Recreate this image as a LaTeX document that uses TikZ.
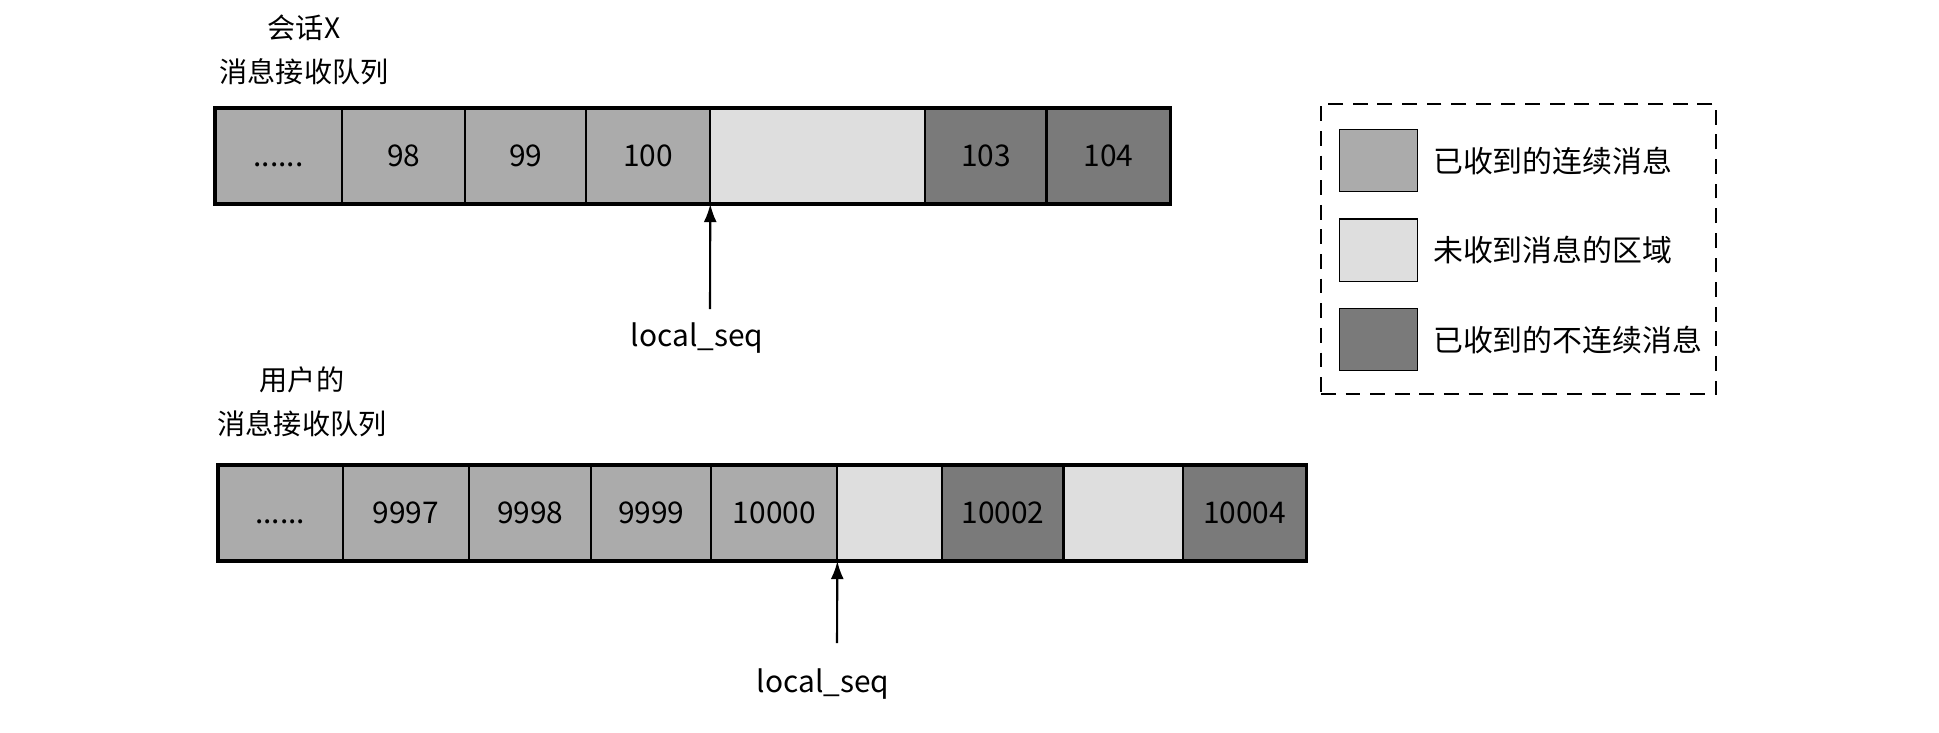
\documentclass[tikz,border=0pt]{standalone}
\usepackage{fontspec}
\setmainfont{Noto Sans CJK SC}
\usetikzlibrary{arrows.meta,positioning}
\definecolor{clRecv}{HTML}{ABABAB}
\definecolor{clGap}{HTML}{DEDEDE}
\definecolor{clDisc}{HTML}{7A7A7A}
\tikzset{
  cell/.style={rectangle, draw, line width=0.6pt, minimum height=0.96cm,
               text height=6.1pt, text depth=0pt,
               inner sep=0pt, outer sep=0pt, font=\fontsize{8.5}{10}\selectfont},
  recv/.style={cell, fill=clRecv},
  gap/.style={cell, fill=clGap},
  disc/.style={cell, fill=clDisc},
  ptr/.style={-{Latex[length=1.8mm,width=1.3mm]}, line width=0.6pt},
  qtitle/.style={align=center, font=\fontsize{8}{12.5}\selectfont},
  seqlabel/.style={font=\fontsize{8.5}{10}\selectfont},
  legbox/.style={rectangle, draw, line width=0.5pt, dash pattern=on 4.2pt off 2.8pt,
                 inner sep=0pt},
  swatch/.style={rectangle, draw, line width=0.4pt, minimum width=0.78cm,
                 minimum height=0.62cm, inner sep=0pt},
  legtext/.style={anchor=west, inner sep=0pt, font=\fontsize{8.5}{10}\selectfont},
}

\begin{document}
\begin{tikzpicture}[x=0.01cm, y=-0.01cm]
  \useasboundingbox (0,0) rectangle (1939,732);
  % session queue
  \node[qtitle] (xtitle) at (304,50) {会话X\\消息接收队列};
  \node[recv, minimum width=1.27cm, anchor=north west] (xa) at (215,108) {......};
  \node[recv, minimum width=1.23cm, right=0pt of xa] (x98) {98};
  \node[recv, minimum width=1.21cm, right=0pt of x98] (x99) {99};
  \node[recv, minimum width=1.24cm, right=0pt of x99] (x100) {100};
  \node[gap, minimum width=2.15cm, right=0pt of x100] (xgap) {};
  \node[disc, minimum width=1.21cm, right=0pt of xgap] (x103) {103};
  \node[disc, minimum width=1.24cm, right=0pt of x103] (x104) {104};
  \draw[line width=1pt] (xa.north west) rectangle (x104.south east);
  \coordinate (xtail) at (710,309);
  \node[seqlabel] (xlbl) at (697,338) {local\_seq};
  \draw[ptr] (xtail) -- (x100.south east);

  % user queue
  \node[qtitle] (utitle) at (302,402) {用户的\\消息接收队列};
  \node[recv, minimum width=1.245cm, anchor=north west] (ua) at (218,465) {......};
  \node[recv, minimum width=1.265cm, right=0pt of ua] (u9997) {9997};
  \node[recv, minimum width=1.22cm, right=0pt of u9997] (u9998) {9998};
  \node[recv, minimum width=1.20cm, right=0pt of u9998] (u9999) {9999};
  \node[recv, minimum width=1.26cm, right=0pt of u9999] (u10000) {10000};
  \node[gap, minimum width=1.05cm, right=0pt of u10000] (ugap1) {};
  \node[disc, minimum width=1.21cm, right=0pt of ugap1] (u10002) {10002};
  \node[gap, minimum width=1.19cm, right=0pt of u10002] (ugap2) {};
  \node[disc, minimum width=1.24cm, right=0pt of ugap2] (u10004) {10004};
  \draw[line width=1pt] (ua.north west) rectangle (u10004.south east);
  \coordinate (utail) at (837,643);
  \node[seqlabel] (ulbl) at (823,684) {local\_seq};
  \draw[ptr] (utail) -- (u10000.south east);

  % legend
  \node[legbox, minimum width=3.95cm, minimum height=2.9cm, anchor=north west] (leg) at (1320,103) {};
  \node[swatch, fill=clRecv, anchor=north west] (s1) at (1339,129) {};
  \node[swatch, fill=clGap, below=0.26cm of s1] (s2) {};
  \node[swatch, fill=clDisc, below=0.26cm of s2] (s3) {};
  \node[legtext, right=0.14cm of s1] (t1) {已收到的连续消息};
  \node[legtext, right=0.14cm of s2] (t2) {未收到消息的区域};
  \node[legtext, right=0.14cm of s3] (t3) {已收到的不连续消息};
\end{tikzpicture}
\end{document}
